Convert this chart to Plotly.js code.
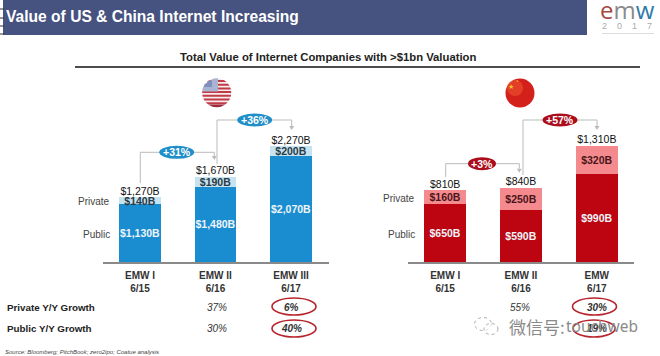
<!DOCTYPE html>
<html><head><meta charset="utf-8">
<script src="https://cdn.plot.ly/plotly-3.0.1.min.js"></script>
<style>html,body{margin:0;padding:0;background:#fff}#c{width:660px;height:356px}</style></head>
<body><div id="c"></div>
<script>
const usCategories = ["EMW I<br>6/15","EMW II<br>6/16","EMW III<br>6/17"];
const cnCategories = ["EMW I<br>6/15","EMW II<br>6/16","EMW<br>6/17"];
const usPublic = [1130,1480,2070];
const usPrivate = [140,190,200];
const usTotal = [1270,1670,2270];
const cnPublic = [650,590,990];
const cnPrivate = [160,250,320];
const cnTotal = [810,840,1310];
const usGrowthPrivate = ["37%","6%"];
const usGrowthPublic = ["30%","40%"];
const cnGrowthPrivate = ["55%","30%"];
const cnGrowthPublic = ["","19%"];

const FONT = "Liberation Sans, Arial, sans-serif";
const W = 660, H = 356;
const P = x => x / W, Q = y => 1 - y / H;
const money = v => "$" + v.toLocaleString("en-US") + "B";

function stack(cats, pub, pri, tot, c1, c2, xa, ya, priText) {
  const common = {type:"bar", x:cats, xaxis:xa, yaxis:ya, width:0.55, showlegend:false, hoverinfo:"skip",
    textposition:"inside", insidetextanchor:"middle", constraintext:"none", textangle:0, cliponaxis:false};
  return [
    Object.assign({}, common, {y:pub, marker:{color:c1, line:{width:0}}, text:pub.map(money),
      textfont:{family:FONT,size:10.5,color:"#eef4f9",weight:"bold"}}),
    Object.assign({}, common, {y:pri, marker:{color:c2, line:{width:0}}, text:pri.map(money),
      textfont:{family:FONT,size:10.5,color:priText,weight:"bold"}}),
    {type:"scatter", mode:"text", x:cats, y:tot, xaxis:xa, yaxis:ya, text:tot.map(money), textposition:"top center",
      textfont:{family:FONT,size:10.5,color:"#111"}, showlegend:false, hoverinfo:"skip", cliponaxis:false}
  ];
}
const data = [
  ...stack(usCategories, usPublic, usPrivate, usTotal, "#1a8dd0", "#c6e3f1", "x", "y", "#2a3a44"),
  ...stack(cnCategories, cnPublic, cnPrivate, cnTotal, "#bd0512", "#f58a8e", "x2", "y2", "#4a1518")
];

const shapes = [], ann = [];
const rect = (x0,y0,x1,y1,fill) => shapes.push({type:"rect",xref:"paper",yref:"paper",x0:P(x0),x1:P(x1),y0:Q(y0),y1:Q(y1),fillcolor:fill,line:{width:0}});
const line = (x0,y0,x1,y1,color,w) => shapes.push({type:"line",xref:"paper",yref:"paper",x0:P(x0),x1:P(x1),y0:Q(y0),y1:Q(y1),line:{color:color,width:w}});
const ell = (cx,cy,rx,ry,fill,stroke,w,dash) => shapes.push({type:"circle",xref:"paper",yref:"paper",x0:P(cx-rx),x1:P(cx+rx),y0:Q(cy-ry),y1:Q(cy+ry),fillcolor:fill,line:stroke?{color:stroke,width:w,dash:dash||"solid"}:{width:0}});
const path = (pts,fill) => shapes.push({type:"path",xref:"paper",yref:"paper",path:"M"+pts.map(p=>P(p[0])+","+Q(p[1])).join("L")+"Z",fillcolor:fill,line:{width:0}});
const txt = (x,y,t,size,color,opt) => ann.push(Object.assign({xref:"paper",yref:"paper",x:P(x),y:Q(y),text:t,showarrow:false,
  font:{family:FONT,size:size,color:color},xanchor:"center",yanchor:"middle",borderpad:0},opt||{}));

// header
rect(3,0,587,35,"#46527f");
[9,18,26,34].forEach(y=>line(0,y,4,y,"#333",1));
txt(5,17,"<b>Value of US & China Internet Increasing</b>",15.6,"#fff",{xanchor:"left"});
txt(627,9,'<span style="color:#a5483f">e</span><span style="color:#8a8a8a">m</span><span style="color:#2f7aa8">w</span>',24,"#888",{font:{family:"Open Sans, sans-serif",size:24,color:"#888"}});
txt(627,26.5,"2\u00a0\u00a0\u00a0\u00a00\u00a0\u00a0\u00a0\u00a01\u00a0\u00a0\u00a0\u00a07",9,"#aaa");
line(602,33.5,654,33.5,"#ddd",1);
txt(328,57,"<b>Total Value of Internet Companies with >$1bn Valuation</b>",11.3,"#222");
line(75,67,640,67,"#111",1.6);

// flags
function chord(cx,cy,r,y0,y1){ const pts=[],n=10;
  for(let i=0;i<=n;i++){const y=y0+(y1-y0)*i/n,d=Math.sqrt(Math.max(0,r*r-(y-cy)*(y-cy)));pts.push([cx+d,y]);}
  for(let i=n;i>=0;i--){const y=y0+(y1-y0)*i/n,d=Math.sqrt(Math.max(0,r*r-(y-cy)*(y-cy)));pts.push([cx-d,y]);}
  return pts; }
ell(216.7,92.7,14.5,14.5,"#f6ecec");
[0,1,2,3,4,5,6].forEach(i=>path(chord(216.7,92.7,14.5,80+i*3.7,80+i*3.7+2),"#c23a48"));
path(chord(216.7,92.7,14.5,104.5,107.2),"#9c2a3a");
path([[205,84.5],[209,81],[214,78.5],[218,78.2],[218,91.5],[202.3,91.5],[203,88]],"#a9b4d2");
path([[205,84.5],[209,81],[212,80],[212,87],[203.6,87]],"#7f90be");
ell(520,93,14.5,14.5,"#d3201b");
ell(515,88,8,8,"rgba(240,90,50,0.55)");
txt(511,86,"★",7,"#f3c22a");
txt(517,81,"★",3,"#f3c22a");

// connectors
const GR="#bbb";
function conn(x0,y0,yt,x1,y1,bx,rx,label,col){
  line(x0,y0,x0,yt,GR,1); line(x0,yt,x1,yt,GR,1); line(x1,yt,x1,y1-3,GR,1);
  path([[x1-2.5,y1-3],[x1+2.5,y1-3],[x1,y1+1]],GR);
  ell(bx,yt,rx,6.5,col);
  txt(bx,yt,"<b>"+label+"</b>",10.5,"#fff");
}
conn(140.3,183,152.3,214.3,159,176.7,17.5,"+31%","#1f8ec9");
conn(217,164,120,291.7,129,254.7,17.5,"+36%","#1f8ec9");
conn(445.7,177,163.7,519.3,171.7,482,14,"+3%","#ab0d1c");
conn(523,175,120,597,129,560,17.5,"+57%","#ab0d1c");

// side labels
txt(111,201,"Private",10,"#444",{xanchor:"right"});
txt(111,234,"Public",10,"#444",{xanchor:"right"});
txt(416,198,"Private",10,"#444",{xanchor:"right"});
txt(416,234,"Public",10,"#444",{xanchor:"right"});

// growth rows
txt(6,307,"<b>Private Y/Y Growth</b>",9.8,"#222",{xanchor:"left"});
txt(6,328,"<b>Public Y/Y Growth</b>",9.8,"#222",{xanchor:"left"});
const I = (x,y,t,bold)=>txt(x,y,bold?"<b><i>"+t+"</i></b>":"<i>"+t+"</i>",10,"#333");
I(217,307,usGrowthPrivate[0]); I(217,328,usGrowthPublic[0]);
I(291.5,307,usGrowthPrivate[1],true); I(291.5,328,usGrowthPublic[1],true);
I(519.5,307,cnGrowthPrivate[0]); I(596.5,307,cnGrowthPrivate[1],true);
I(596.5,328,cnGrowthPublic[1],true);
ell(294,306.5,22,8.5,"rgba(0,0,0,0)","#b8242c",1.6);
ell(294,328.5,22,8.5,"rgba(0,0,0,0)","#b8242c",1.6);
ell(594.5,306.5,22,8.5,"rgba(0,0,0,0)","#b8242c",1.6);
ell(594,328.5,21,8.5,"rgba(0,0,0,0)","#b8242c",1.6);
txt(4,352,"<i>Source: Bloomberg; PitchBook; zero2ipo; Coatue analysis</i>",6,"#444",{xanchor:"left"});

// watermark
ell(483,324,8.5,6.5,"rgba(255,255,255,0.6)","#aaa",1,"dot");
ell(491,329,7,5.5,"rgba(255,255,255,0.6)","#aaa",1,"dot");
txt(508,326,"微信号:",17,"#8a8a8a",{xanchor:"left",font:{family:"Noto Sans CJK SC, sans-serif",size:17,color:"#8a8a8a"}});
txt(565,326,"touchweb",15.5,"#8a8a8a",{xanchor:"left",font:{family:"Noto Sans, sans-serif",size:15.5,color:"#8a8a8a"}});

const yDom = [Q(262), Q(60)];
const axX = (dom,rng)=>({domain:[P(dom[0]),P(dom[1])],range:rng,type:"category",showline:true,linecolor:"#8a8a8a",linewidth:1.5,
  ticks:"",tickfont:{family:FONT,size:10,color:"#333",weight:"bold"},showgrid:false,zeroline:false,fixedrange:true,ticklabelstandoff:3});
const axY = (top,anchor)=>({domain:yDom,range:[0,top],visible:false,fixedrange:true,anchor:anchor});
const layout = {
  width:W,height:H,margin:{l:0,r:0,t:0,b:0},paper_bgcolor:"#fff",plot_bgcolor:"rgba(0,0,0,0)",barmode:"stack",showlegend:false,
  xaxis:Object.assign(axX([102.7,329],[-0.494,2.503]),{anchor:"y"}),
  yaxis:axY(202/0.051,"x"),
  xaxis2:Object.assign(axX([408,634],[-0.49,2.49]),{anchor:"y2"}),
  yaxis2:axY(202/0.0886,"x2"),
  shapes:shapes,annotations:ann
};
Plotly.newPlot("c",data,layout,{displayModeBar:false,staticPlot:true});
</script></body></html>
